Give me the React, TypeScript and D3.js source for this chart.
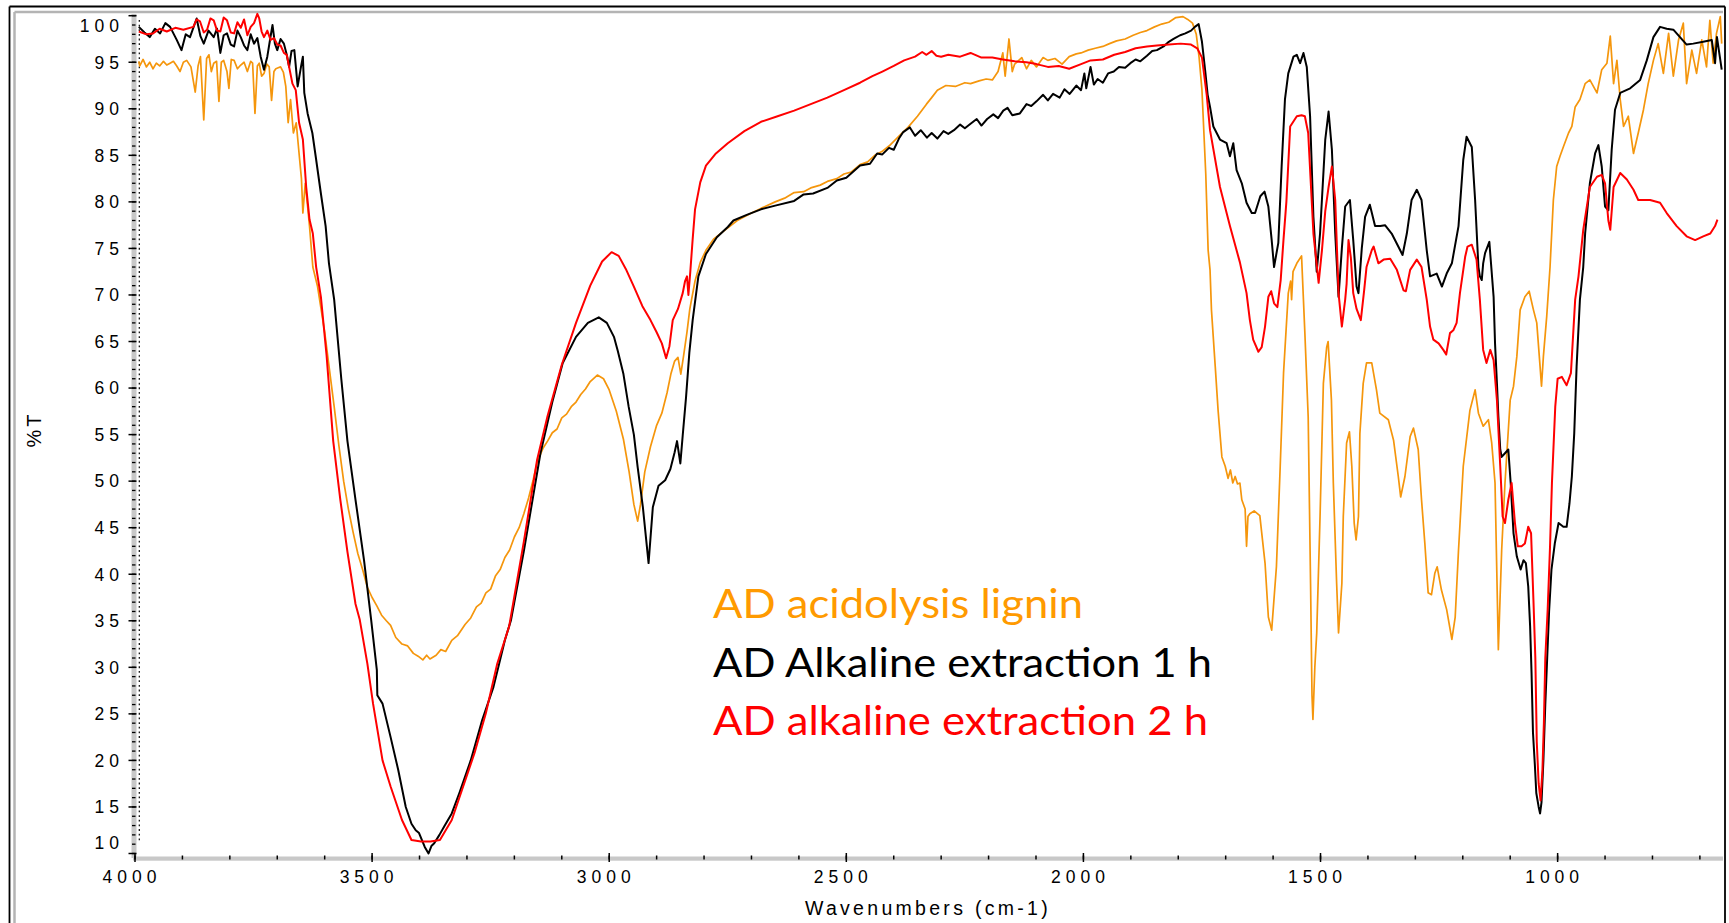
import React from 'react';
import * as d3 from 'd3';

// ---------- data (wavenumber cm-1, %T) ----------
const seriesNames = ['AD acidolysis lignin', 'AD Alkaline extraction 1 h', 'AD alkaline extraction 2 h'];

const acidolysis: [number, number][] = [
  [3992, 95.1], [3990, 94.6], [3983, 95.3], [3976, 94.5], [3969, 95.0], [3962, 94.3], [3955, 94.9], [3948, 94.6],
  [3940, 95.1], [3933, 94.7], [3926, 94.9], [3919, 95.1], [3912, 94.6], [3905, 94.0], [3898, 95.0], [3891, 95.2],
  [3882, 94.5], [3873, 91.8], [3867, 94.6], [3862, 95.6], [3855, 88.8], [3849, 95.4], [3844, 95.8], [3839, 94.0],
  [3834, 94.9], [3828, 95.1], [3823, 90.8], [3818, 95.0], [3813, 95.2], [3806, 94.0], [3802, 92.2], [3797, 95.3],
  [3791, 95.2], [3784, 94.3], [3777, 94.7], [3770, 95.0], [3763, 94.0], [3756, 95.1], [3752, 94.9], [3747, 89.5],
  [3742, 94.6], [3738, 94.9], [3733, 93.5], [3728, 93.8], [3722, 94.8], [3717, 94.5], [3712, 90.9], [3707, 94.0],
  [3703, 94.3], [3698, 94.4], [3693, 94.5], [3687, 93.9], [3682, 92.4], [3677, 88.5], [3672, 91.0], [3666, 87.4],
  [3660, 88.5], [3654, 85.2], [3649, 82.5], [3646, 78.8], [3641, 82.0], [3636, 79.5], [3632, 77.4], [3625, 73.0],
  [3615, 70.9], [3600, 66.0], [3590, 62.0], [3580, 58.0], [3570, 53.8], [3560, 50.0], [3550, 47.0], [3540, 44.5],
  [3530, 42.2], [3520, 40.5], [3510, 38.6], [3500, 37.5], [3490, 36.6], [3480, 35.6], [3470, 35.0], [3461, 34.5],
  [3450, 33.2], [3437, 32.5], [3425, 32.3], [3413, 31.5], [3403, 31.2], [3393, 30.8], [3385, 31.3], [3378, 30.9],
  [3365, 31.3], [3355, 31.9], [3345, 31.7], [3332, 32.9], [3320, 33.4], [3304, 34.6], [3292, 35.3], [3280, 36.5],
  [3270, 36.9], [3260, 38.0], [3250, 38.4], [3240, 39.8], [3230, 40.5], [3220, 41.8], [3210, 42.6], [3200, 44.0],
  [3190, 45.0], [3180, 46.5], [3170, 48.2], [3160, 50.2], [3152, 52.0], [3140, 53.5], [3130, 54.3], [3120, 55.2],
  [3110, 55.6], [3100, 56.8], [3090, 57.2], [3080, 58.0], [3070, 58.5], [3060, 59.3], [3050, 59.9], [3040, 60.7],
  [3025, 61.4], [3012, 61.0], [3000, 59.8], [2985, 57.5], [2970, 54.5], [2958, 51.0], [2948, 47.5], [2940, 45.7],
  [2934, 47.5], [2925, 51.0], [2913, 53.7], [2900, 56.0], [2889, 57.3], [2878, 59.5], [2870, 61.5], [2862, 62.9],
  [2855, 63.3], [2849, 61.5], [2843, 63.5], [2836, 66.0], [2830, 68.5], [2819, 71.5], [2808, 73.5], [2796, 74.8],
  [2780, 76.0], [2760, 76.8], [2730, 78.0], [2700, 78.8], [2680, 79.3], [2650, 80.0], [2630, 80.4], [2610, 81.0],
  [2590, 81.1], [2575, 81.5], [2555, 81.8], [2540, 82.2], [2520, 82.5], [2505, 83.0], [2490, 83.2], [2471, 84.0],
  [2455, 84.3], [2440, 85.0], [2425, 85.4], [2410, 86.0], [2390, 87.0], [2370, 88.0], [2350, 89.2], [2331, 90.5],
  [2320, 91.2], [2308, 92.0], [2290, 92.5], [2270, 92.4], [2250, 92.8], [2238, 92.7], [2220, 93.0], [2205, 93.2],
  [2192, 93.1], [2180, 94.0], [2170, 96.0], [2165, 93.5], [2157, 97.5], [2150, 94.0], [2145, 94.8], [2130, 95.5],
  [2120, 94.3], [2110, 95.2], [2099, 94.5], [2085, 95.5], [2075, 95.2], [2060, 95.4], [2045, 94.8], [2030, 95.6],
  [2015, 95.9], [2005, 96.0], [1990, 96.3], [1975, 96.5], [1959, 96.7], [1945, 97.0], [1930, 97.3], [1912, 97.5],
  [1895, 97.9], [1880, 98.2], [1866, 98.4], [1850, 98.8], [1835, 99.1], [1820, 99.3], [1805, 99.8], [1790, 99.9],
  [1780, 99.6], [1770, 99.2], [1762, 98.0], [1756, 95.5], [1750, 92.0], [1742, 83.0], [1737, 74.8], [1733, 72.7],
  [1730, 68.4], [1722, 62.3], [1716, 57.6], [1708, 52.6], [1701, 51.6], [1695, 50.3], [1690, 51.2], [1685, 49.8],
  [1680, 50.5], [1675, 49.7], [1670, 49.8], [1666, 48.0], [1659, 47.0], [1656, 43.0], [1653, 46.2], [1649, 46.5],
  [1640, 46.8], [1628, 46.3], [1617, 41.2], [1610, 35.4], [1603, 34.0], [1593, 40.8], [1585, 51.6], [1578, 61.6],
  [1568, 70.2], [1563, 71.5], [1561, 69.5], [1558, 72.5], [1550, 73.4], [1540, 74.2], [1533, 65.9], [1526, 56.9],
  [1521, 39.0], [1518, 27.0], [1516, 24.4], [1512, 30.0], [1508, 33.7], [1501, 46.2], [1494, 60.5], [1487, 64.4],
  [1484, 65.0], [1477, 58.7], [1473, 49.8], [1466, 39.0], [1462, 33.7], [1455, 39.0], [1452, 46.2], [1445, 54.1],
  [1439, 55.3], [1434, 51.6], [1429, 45.5], [1425, 43.7], [1420, 46.2], [1417, 55.1], [1410, 60.5], [1403, 62.7],
  [1392, 62.7], [1382, 59.8], [1375, 57.3], [1357, 56.6], [1346, 54.4], [1336, 50.5], [1331, 48.3], [1322, 50.5],
  [1311, 54.8], [1304, 55.7], [1294, 53.4], [1287, 48.0], [1280, 43.3], [1273, 38.0], [1266, 37.8], [1259, 40.1],
  [1254, 40.8], [1245, 38.3], [1234, 36.2], [1223, 33.0], [1216, 35.4], [1209, 42.6], [1199, 51.6], [1185, 57.6],
  [1174, 59.8], [1167, 57.3], [1157, 55.9], [1146, 56.6], [1139, 54.1], [1132, 49.8], [1125, 31.9], [1118, 42.6],
  [1111, 49.8], [1100, 58.7], [1093, 60.2], [1086, 63.4], [1079, 68.4], [1069, 69.8], [1060, 70.4], [1051, 68.4],
  [1044, 67.0], [1037, 62.3], [1034, 60.2], [1030, 63.4], [1023, 67.7], [1016, 73.0], [1009, 80.2], [1002, 83.8],
  [995, 84.9], [988, 85.9], [977, 87.4], [970, 88.1], [963, 90.2], [953, 91.0], [942, 92.7], [932, 93.1],
  [917, 91.7], [907, 94.2], [896, 94.9], [889, 97.8], [882, 92.7], [875, 95.2], [868, 91.0], [861, 88.1],
  [851, 89.2], [840, 85.2], [830, 87.4], [819, 89.9], [809, 92.7], [798, 95.2], [788, 97.0], [777, 93.8],
  [766, 98.1], [756, 93.5], [745, 97.4], [735, 99.2], [728, 92.7], [717, 96.3], [707, 93.8], [696, 97.4],
  [686, 94.5], [679, 99.5], [672, 94.9], [665, 98.1], [657, 99.9], [654, 97.0],
];

const alkaline1h: [number, number][] = [
  [3992, 98.8], [3980, 98.2], [3969, 97.7], [3958, 98.6], [3947, 98.1], [3936, 99.2], [3926, 98.8], [3912, 97.4],
  [3902, 96.3], [3893, 98.0], [3884, 97.7], [3870, 99.7], [3862, 97.8], [3855, 97.0], [3845, 98.4], [3834, 97.7],
  [3827, 98.6], [3820, 96.0], [3813, 97.9], [3806, 98.1], [3798, 96.9], [3791, 96.7], [3784, 98.4], [3777, 97.7],
  [3770, 96.8], [3763, 96.3], [3756, 98.0], [3749, 97.0], [3742, 97.6], [3735, 95.6], [3728, 94.2], [3721, 95.6],
  [3715, 97.5], [3710, 99.0], [3705, 97.0], [3700, 96.3], [3693, 97.5], [3686, 97.0], [3680, 95.8], [3675, 94.5],
  [3670, 96.2], [3664, 96.3], [3657, 92.4], [3650, 94.5], [3646, 95.6], [3643, 91.7], [3636, 89.5], [3626, 87.4],
  [3619, 84.9], [3608, 80.9], [3598, 77.4], [3591, 73.4], [3580, 69.5], [3565, 61.0], [3552, 54.3], [3535, 48.0],
  [3517, 41.5], [3502, 35.1], [3490, 29.7], [3489, 27.0], [3478, 26.1], [3461, 22.5], [3445, 19.0], [3429, 15.0],
  [3417, 13.2], [3408, 12.5], [3401, 12.2], [3389, 10.7], [3381, 10.0], [3375, 10.8], [3369, 11.1], [3358, 12.0],
  [3348, 12.9], [3332, 14.3], [3316, 16.5], [3292, 20.0], [3268, 24.3], [3244, 27.9], [3220, 32.9], [3207, 35.1],
  [3180, 42.5], [3160, 48.5], [3145, 53.0], [3120, 58.5], [3098, 62.7], [3070, 65.5], [3045, 67.0], [3022, 67.6],
  [3005, 67.0], [2990, 65.5], [2982, 64.0], [2970, 61.5], [2959, 58.0], [2948, 55.0], [2940, 51.5], [2929, 47.2],
  [2917, 41.2], [2908, 47.2], [2896, 49.5], [2882, 50.1], [2871, 51.3], [2862, 53.1], [2857, 54.3], [2850, 51.9],
  [2845, 54.9], [2838, 59.0], [2831, 63.8], [2824, 67.3], [2812, 72.0], [2796, 74.4], [2773, 76.2], [2750, 77.3],
  [2738, 78.0], [2710, 78.6], [2680, 79.2], [2650, 79.6], [2610, 80.1], [2590, 80.8], [2570, 80.9], [2540, 81.5],
  [2520, 82.3], [2500, 82.6], [2471, 83.9], [2450, 84.1], [2435, 85.2], [2424, 85.1], [2410, 85.8], [2400, 85.6],
  [2389, 86.8], [2380, 87.5], [2366, 88.0], [2355, 87.1], [2343, 87.7], [2330, 86.9], [2320, 87.4], [2308, 86.8],
  [2295, 87.6], [2285, 87.3], [2273, 87.7], [2260, 88.3], [2250, 87.9], [2238, 88.4], [2225, 88.9], [2215, 88.2],
  [2203, 88.9], [2190, 89.4], [2180, 89.0], [2169, 89.8], [2160, 90.1], [2150, 89.3], [2134, 89.5], [2120, 90.5],
  [2110, 90.3], [2099, 90.8], [2085, 91.5], [2075, 90.9], [2064, 91.6], [2050, 91.2], [2040, 92.1], [2029, 91.6],
  [2015, 92.5], [2005, 92.0], [1998, 93.8], [1994, 92.2], [1985, 94.5], [1978, 92.6], [1970, 93.2], [1959, 92.8],
  [1948, 93.8], [1936, 94.0], [1925, 94.5], [1912, 94.4], [1901, 94.9], [1890, 95.3], [1880, 95.1], [1866, 95.7],
  [1855, 96.2], [1845, 96.3], [1831, 96.7], [1820, 97.2], [1810, 97.5], [1796, 97.9], [1785, 98.1], [1773, 98.4],
  [1765, 98.8], [1757, 99.1], [1750, 97.2], [1743, 94.0], [1738, 91.5], [1733, 90.2], [1726, 88.1], [1712, 86.7],
  [1698, 86.3], [1691, 84.9], [1684, 86.3], [1677, 83.4], [1666, 82.0], [1656, 79.9], [1645, 78.8], [1638, 78.8],
  [1627, 80.6], [1618, 81.1], [1610, 79.5], [1603, 75.9], [1598, 73.0], [1589, 75.6], [1582, 83.8], [1575, 91.0],
  [1568, 93.8], [1557, 95.6], [1550, 95.8], [1543, 94.9], [1536, 96.0], [1529, 94.5], [1522, 89.2], [1515, 78.4],
  [1508, 72.5], [1501, 76.6], [1490, 86.7], [1483, 89.7], [1476, 85.6], [1469, 76.6], [1462, 69.8], [1455, 75.0],
  [1448, 79.5], [1438, 80.2], [1431, 75.9], [1424, 70.9], [1420, 70.2], [1413, 75.0], [1406, 78.4], [1396, 79.7],
  [1385, 77.4], [1374, 77.4], [1364, 77.5], [1350, 76.6], [1336, 75.2], [1327, 74.3], [1318, 76.6], [1308, 80.2],
  [1297, 81.3], [1287, 80.2], [1276, 74.8], [1269, 72.0], [1255, 72.3], [1244, 70.9], [1234, 72.3], [1223, 73.4],
  [1209, 77.4], [1199, 84.5], [1192, 87.0], [1181, 85.9], [1174, 80.2], [1167, 73.0], [1164, 72.0], [1160, 71.6],
  [1157, 73.4], [1153, 74.5], [1144, 75.7], [1135, 69.8], [1132, 64.8], [1128, 60.5], [1125, 57.0], [1121, 53.4],
  [1118, 52.6], [1111, 53.0], [1104, 53.4], [1099, 49.8], [1093, 44.4], [1086, 41.9], [1078, 40.5], [1072, 41.5],
  [1067, 41.2], [1062, 38.7], [1058, 34.4], [1055, 29.4], [1052, 23.0], [1048, 19.5], [1045, 16.5], [1040, 15.0],
  [1037, 14.3], [1034, 15.5], [1030, 20.0], [1026, 26.0], [1022, 31.0], [1018, 36.0], [1013, 40.5], [1006, 43.3],
  [998, 45.5], [988, 45.1], [981, 45.1], [975, 47.6], [970, 50.5], [965, 55.1], [960, 62.3], [953, 69.5],
  [946, 73.0], [942, 76.6], [932, 82.0], [921, 85.2], [914, 86.1], [907, 83.8], [900, 79.5], [893, 79.1],
  [886, 85.6], [879, 89.9], [868, 91.7], [847, 92.2], [826, 93.1], [812, 95.2], [798, 97.7], [784, 98.8],
  [770, 98.6], [756, 98.5], [742, 97.7], [728, 96.9], [714, 97.0], [693, 97.2], [675, 97.4], [668, 94.9],
  [664, 97.7], [654, 94.2],
];

const alkaline2h: [number, number][] = [
  [3992, 98.3], [3976, 98.0], [3962, 98.1], [3948, 98.6], [3933, 98.3], [3915, 98.7], [3898, 98.5], [3877, 98.8],
  [3870, 99.6], [3863, 99.4], [3855, 98.2], [3848, 98.5], [3841, 99.7], [3834, 99.5], [3827, 98.4], [3820, 98.3],
  [3813, 99.8], [3806, 99.5], [3798, 98.2], [3791, 98.1], [3784, 99.3], [3777, 98.7], [3770, 99.6], [3763, 97.9],
  [3756, 98.8], [3749, 99.2], [3742, 100.2], [3738, 99.7], [3733, 98.3], [3728, 97.7], [3721, 98.4], [3714, 97.4],
  [3707, 97.6], [3700, 96.9], [3693, 96.8], [3686, 96.0], [3680, 95.8], [3675, 94.5], [3668, 92.7], [3661, 92.0],
  [3654, 88.5], [3646, 86.7], [3639, 81.6], [3632, 78.1], [3625, 76.6], [3618, 73.0], [3608, 69.8], [3596, 63.5],
  [3582, 54.3], [3567, 48.0], [3552, 42.4], [3535, 36.8], [3526, 35.1], [3510, 30.4], [3498, 26.1], [3478, 20.0],
  [3461, 17.2], [3437, 13.6], [3417, 11.45], [3397, 11.3], [3377, 11.3], [3357, 11.45], [3332, 13.6], [3308, 17.2],
  [3284, 20.8], [3260, 25.1], [3236, 30.4], [3211, 34.4], [3180, 43.5], [3152, 52.3], [3130, 57.0], [3100, 62.5],
  [3070, 67.0], [3040, 71.0], [3015, 73.6], [2995, 74.6], [2980, 74.2], [2965, 72.8], [2948, 70.9], [2930, 68.8],
  [2913, 67.3], [2900, 66.0], [2889, 64.8], [2880, 63.2], [2873, 64.5], [2866, 67.3], [2855, 68.5], [2845, 70.2],
  [2840, 71.5], [2836, 72.0], [2833, 70.0], [2829, 72.5], [2824, 76.0], [2819, 79.2], [2808, 82.1], [2796, 83.9],
  [2775, 85.2], [2750, 86.3], [2715, 87.6], [2680, 88.6], [2645, 89.2], [2610, 89.8], [2575, 90.5], [2540, 91.2],
  [2505, 92.0], [2471, 92.8], [2445, 93.5], [2424, 94.0], [2400, 94.6], [2378, 95.2], [2355, 95.6], [2340, 96.1],
  [2331, 95.8], [2320, 96.2], [2310, 95.7], [2300, 95.6], [2285, 95.8], [2260, 95.6], [2238, 96.0], [2215, 95.5],
  [2192, 95.5], [2170, 95.3], [2145, 95.1], [2120, 95.0], [2099, 94.8], [2075, 94.5], [2052, 94.6], [2030, 94.3],
  [2005, 94.8], [1985, 95.2], [1959, 95.3], [1935, 95.8], [1912, 96.1], [1890, 96.5], [1866, 96.7], [1845, 96.8],
  [1820, 96.9], [1795, 97.0], [1773, 96.9], [1760, 96.5], [1750, 95.5], [1740, 91.5], [1733, 87.7], [1712, 81.6],
  [1691, 77.4], [1670, 73.5], [1656, 70.2], [1649, 67.3], [1642, 65.2], [1631, 63.9], [1624, 64.4], [1617, 66.6],
  [1610, 69.8], [1604, 70.4], [1598, 69.1], [1591, 68.7], [1584, 71.6], [1578, 76.0], [1572, 80.0], [1564, 88.1],
  [1550, 89.2], [1540, 89.3], [1533, 89.2], [1526, 87.4], [1515, 76.6], [1504, 71.3], [1497, 74.8], [1490, 79.0],
  [1483, 81.6], [1476, 83.8], [1469, 80.2], [1462, 70.2], [1455, 66.6], [1448, 69.5], [1445, 71.2], [1441, 75.9],
  [1436, 74.0], [1431, 70.2], [1424, 68.5], [1415, 67.3], [1408, 70.5], [1403, 73.0], [1392, 74.8], [1388, 75.2],
  [1378, 73.4], [1367, 73.8], [1353, 73.9], [1339, 72.7], [1325, 70.5], [1320, 70.4], [1311, 72.7], [1297, 73.8],
  [1287, 73.0], [1276, 69.5], [1269, 66.6], [1262, 65.2], [1251, 64.8], [1241, 64.1], [1235, 63.6], [1227, 65.9],
  [1220, 66.2], [1213, 67.0], [1206, 70.2], [1195, 74.1], [1190, 75.2], [1181, 75.4], [1171, 73.8], [1164, 69.5],
  [1157, 64.1], [1150, 62.7], [1142, 64.1], [1135, 63.0], [1128, 58.7], [1121, 51.6], [1116, 46.2], [1111, 45.5],
  [1104, 48.0], [1097, 49.8], [1090, 45.5], [1084, 43.0], [1076, 43.0], [1069, 43.3], [1062, 45.1], [1056, 44.4],
  [1051, 37.2], [1047, 31.0], [1044, 22.0], [1040, 17.5], [1036, 15.7], [1032, 19.0], [1029, 24.0], [1026, 31.0],
  [1021, 36.2], [1016, 43.0], [1012, 49.8], [1005, 58.0], [1000, 61.0], [991, 61.2], [981, 60.3], [972, 61.6],
  [963, 69.5], [956, 72.0], [946, 77.0], [932, 81.6], [917, 82.7], [907, 82.9], [900, 82.0], [893, 78.0],
  [889, 77.0], [882, 81.6], [868, 83.1], [854, 82.4], [840, 81.3], [830, 80.2], [805, 80.2], [784, 79.9],
  [770, 78.8], [749, 77.4], [728, 76.3], [710, 75.9], [693, 76.3], [678, 76.6], [668, 77.4], [663, 78.1],
];

const yTickValues = [10, 15, 20, 25, 30, 35, 40, 45, 50, 55, 60, 65, 70, 75, 80, 85, 90, 95, 100];
const xTickValues = [4000, 3500, 3000, 2500, 2000, 1500, 1000];

const lineColors = ['#F5960C', '#000000', '#FF0000'];
const legendColors = ['#FF9A00', '#000000', '#FF0000'];

export default function App() {
  const W = 1729, H = 923;
  const x = d3.scaleLinear().domain([4000, 650]).range([135, 1723.6]);
  const y = d3.scaleLinear().domain([10, 100]).range([853.5, 15.7]);
  const line = d3.line<[number, number]>().x(d => x(d[0])).y(d => y(d[1]));

  const minorY = d3.range(10, 100.01, 1);
  const minorX = d3.range(4000, 649, -100);
  const dots = d3.range(20, 842, 4.65);

  const series = [acidolysis, alkaline1h, alkaline2h];
  const legendY = [618, 677, 735];
  const legendLen = [370, 499, 495];
  const tickFont = '"Liberation Sans", Arial, sans-serif';

  return (
    <svg width={W} height={H} style={{ position: 'absolute', left: 0, top: 0, background: '#fff' }}>
      <rect x={0} y={0} width={W} height={H} fill="#fff" />
      {/* frame */}
      <line x1={14.5} y1={12} x2={14.5} y2={H} stroke="#b4b4b4" strokeWidth={2.5} />
      <line x1={14.5} y1={12} x2={1723} y2={12} stroke="#b4b4b4" strokeWidth={2.5} />
      <line x1={9.5} y1={6.5} x2={9.5} y2={H} stroke="#000" strokeWidth={1.8} />
      <line x1={9.5} y1={6.5} x2={1725} y2={6.5} stroke="#000" strokeWidth={1.8} />
      <line x1={1725} y1={6.5} x2={1725} y2={H} stroke="#000" strokeWidth={1.8} />

      {/* y axis */}
      <rect x={131.5} y={14} width={5} height={844} fill="#c8c8c8" />
      {minorY.map(v => (
        <line key={'my' + v} x1={132} x2={135.5} y1={y(v)} y2={y(v)} stroke="#000" strokeWidth={1.3} />
      ))}
      {yTickValues.map(v => (
        <line key={'ty' + v} x1={128.5} x2={136.5} y1={y(v)} y2={y(v)} stroke="#000" strokeWidth={1.5} />
      ))}
      {dots.map((d, i) => (
        <line key={'dt' + i} x1={139.3} x2={139.3} y1={d} y2={d + 1.8} stroke="#000" strokeWidth={1.2} />
      ))}
      {yTickValues.map(v => {
        let yy = y(v) + 6.3;
        if (v === 100) yy += 10;
        if (v === 10) yy -= 11;
        return (
          <text key={'yl' + v} x={124} y={yy} textAnchor="end" fontFamily={tickFont} fontSize={17.5}
            letterSpacing={5} fill="#000">{v}</text>
        );
      })}

      {/* x axis */}
      <rect x={133} y={856.5} width={1590} height={4.2} fill="#c8c8c8" />
      {minorX.map(v => (
        <line key={'mx' + v} x1={x(v)} x2={x(v)} y1={855.5} y2={859.5} stroke="#000" strokeWidth={1.5} />
      ))}
      {xTickValues.map(v => (
        <line key={'tx' + v} x1={x(v)} x2={x(v)} y1={853} y2={862} stroke="#000" strokeWidth={1.5} />
      ))}
      {xTickValues.map(v => (
        <text key={'xl' + v} x={x(v) - 3} y={883} textAnchor="middle" fontFamily={tickFont} fontSize={17.5}
          letterSpacing={5} fill="#000">{v}</text>
      ))}

      <text x={928} y={915} textAnchor="middle" fontFamily={tickFont} fontSize={19.5} letterSpacing={3.3}
        fill="#000">Wavenumbers (cm-1)</text>
      <text transform="translate(40.5,429.5) rotate(-90)" textAnchor="middle" fontFamily={tickFont}
        fontSize={20} letterSpacing={3} fill="#000">%T</text>

      {/* spectra */}
      <defs>
        <clipPath id="plotclip">
          <rect x={135} y={10} width={1590} height={849} />
        </clipPath>
      </defs>
      <g clipPath="url(#plotclip)" fill="none" strokeLinejoin="round">
        {series.map((s, i) => (
          <path key={'s' + i} d={line(s) || ''} stroke={lineColors[i]} strokeWidth={i === 0 ? 1.7 : 2} />
        ))}
      </g>

      {/* legend */}
      {seriesNames.map((n, i) => (
        <text key={'lg' + i} x={713} y={legendY[i]} fontFamily="Lato, 'Open Sans', sans-serif" fontSize={40}
          fill={legendColors[i]} textLength={legendLen[i]} lengthAdjust="spacingAndGlyphs">{n}</text>
      ))}
    </svg>
  );
}
